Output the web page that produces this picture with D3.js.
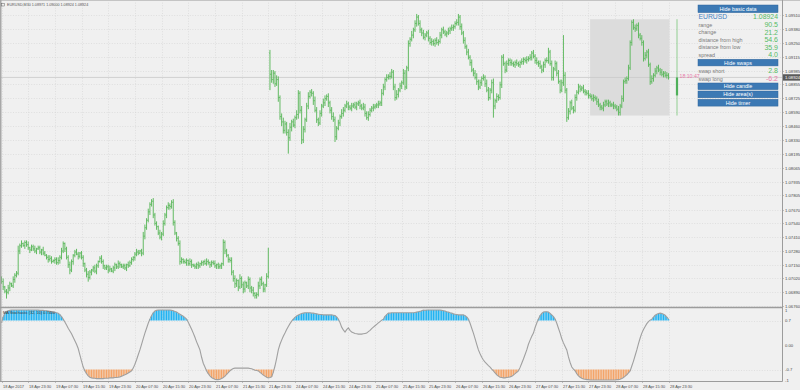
<!DOCTYPE html>
<html>
<head>
<meta charset="utf-8">
<script src="https://d3js.org/d3.v7.min.js"></script>
<style>
  body { margin: 0; background: #f0f0f0; }
  svg { display: block; font-family: "Liberation Sans", Arial, sans-serif; }
</style>
</head>
<body>
<svg id="chart" width="800" height="390"></svg>
<script>
// ---- data ----
var symbol = "EURUSD,M30";
var headerPrices = ["1.08971", "1.09000", "1.08924", "1.08924"];
var indicatorName = "MA Stochastic (32, 10) 0.7400";

var dateLabels = ["18 Apr 2017", "18 Apr 23:30", "19 Apr 07:30", "19 Apr 15:30", "19 Apr 23:30",
  "20 Apr 07:30", "20 Apr 15:30", "20 Apr 23:30", "21 Apr 07:30", "21 Apr 15:30", "21 Apr 23:30",
  "24 Apr 07:30", "24 Apr 15:30", "24 Apr 23:30", "25 Apr 07:30", "25 Apr 15:30", "25 Apr 23:30",
  "26 Apr 07:30", "26 Apr 15:30", "26 Apr 23:30", "27 Apr 07:30", "27 Apr 15:30", "27 Apr 23:30",
  "28 Apr 07:30", "28 Apr 15:30", "28 Apr 23:30"];
var barsPerLabel = 16;

var priceTicks = [1.09510, 1.09380, 1.09250, 1.09115, 1.08985, 1.08855, 1.08725, 1.08590,
  1.08460, 1.08330, 1.08195, 1.08065, 1.07935, 1.07805, 1.07670, 1.07540, 1.07410, 1.07280,
  1.07150, 1.07020, 1.06890, 1.06760];
var stochTicks = [1, 0.7, 0, -0.7, -1];
var stochTickLabels = ["1", "0.7", "0.00", "-0.7", "-1"];

// closes in pips above 1.07000, one per M30 bar
var closes = [-1,-6,-10,-11,-7,-3,-5,1,5,7,28,33,35,33,36,34,31,29,32,30,28,30,31,27,29,
  26,24,22,20,21,18,19,20,17,19,22,28,35,30,22,15,10,18,24,27,25,23,26,22,16,10,6,3,
  8,10,12,9,14,18,21,18,14,12,13,10,11,9,12,15,13,16,15,13,14,12,15,14,17,20,22,
  25,27,26,28,26,42,50,57,65,72,75,62,54,51,45,41,44,54,62,69,71,70,74,55,45,40,35,18,
  20,18,17,19,16,18,15,14,13,15,14,16,17,18,16,18,17,15,17,16,14,15,13,14,16,36,28,24,20,19,
  8,2,-3,0,-6,2,-4,-8,-2,-5,1,-7,-9,-12,-14,-13,-5,1,-3,-8,-4,4,8,
  195,190,196,186,190,173,155,150,142,148,140,135,145,150,147,154,157,177,161,133,143,152,
  165,174,178,177,170,161,152,149,158,165,168,172,174,168,161,155,152,136,144,149,155,158,161,
  165,167,164,163,165,166,164,167,168,165,163,164,158,154,157,161,163,164,165,166,167,168,177,
  183,190,192,193,193,197,183,173,176,180,184,187,196,183,201,224,228,232,237,243,249,243,
  237,234,230,232,234,229,225,226,224,227,225,226,232,237,235,233,234,236,238,239,240,243,244,249,
  240,234,227,221,216,211,206,199,196,192,188,183,187,191,192,186,180,173,180,187,165,170,174,173,185,
  211,205,199,205,208,206,205,204,206,205,204,206,207,209,208,209,210,211,215,212,208,206,205,
  202,199,204,208,208,216,205,192,200,205,196,188,180,187,194,180,154,160,168,163,161,
  173,178,183,181,182,179,178,177,175,174,172,173,172,169,166,164,163,166,169,167,168,166,
  166,165,164,162,159,165,172,188,189,191,201,225,244,239,238,241,232,229,225,
  210,213,216,204,188,191,194,198,201,199,197,195,196,194,194,192];

var wickUp = [2,3,1,2,3,2,1,3,2,2,5,2,3,1,2,2,3,1,2,2,
  3,1,2,2,1,3,2,1,2,3,2,1,2,2,3,2,3,2,1,2,
  2,3,2,1,2,3,2,1,2,2,1,2,3,2,1,2,3,2,1,2,
  3,2,1,2,2,3,1,2,2,1,3,2,1,2,2,1,3,2,2,1,
  2,3,2,1,2,4,3,2,3,2,2,3,2,2,1,3,2,3,2,2,
  3,2,2,3,2,1,2,3,2,1,2,2,1,3,2,1,2,2,3,1,
  2,1,2,3,2,1,2,2,3,1,2,2,1,3,2,2,1,2,3,2,
  3,2,1,4,2,3,2,1,3,2,2,3,1,2,4,2,3,2,1,3,
  23,3,4,3,2,4,3,2,3,4,3,2,3,4,2,3,2,4,3,2,
  4,3,2,3,4,2,3,2,4,3,2,3,2,4,3,2,3,2,3,4,
  3,2,3,2,4,3,2,3,2,2,3,2,3,2,2,3,2,4,3,2,
  3,2,2,3,2,2,3,2,4,3,2,3,2,4,3,2,3,4,2,3,
  2,4,3,2,3,2,4,2,3,3,2,3,2,3,2,2,3,2,3,2,
  2,3,2,3,2,3,2,2,3,2,3,2,2,3,3,2,3,2,3,2,
  3,2,3,2,3,4,2,3,2,3,2,4,3,2,3,4,2,3,2,3,
  2,3,2,3,2,2,3,2,2,3,2,2,3,2,2,3,2,3,2,3,
  2,3,2,3,2,3,2,3,4,2,3,2,3,2,3,2,3,38,3,2,
  3,2,3,2,3,2,3,2,2,3,2,2,3,2,2,3,2,2,3,2,
  2,3,2,2,3,2,2,3,2,2,3,2,3,2,3,2,3,2,2,3,
  3,2,3,2,3,2,3,2,3,2,3,2,3,2,3,2,3,2,2,3,
  2];

var wickDn = [2,3,2,6,2,3,1,2,3,2,2,3,2,1,3,2,2,3,1,2,
  2,3,1,2,3,2,1,2,3,2,2,1,3,2,2,3,2,2,3,2,
  3,4,2,3,2,1,3,2,2,3,2,3,4,2,3,2,2,3,2,1,
  2,3,2,2,3,2,1,2,3,2,2,3,1,2,2,3,2,1,2,2,
  3,2,2,1,3,2,3,2,2,3,2,3,2,3,2,2,3,2,2,3,
  2,3,2,3,2,3,2,3,2,2,1,3,2,2,3,1,2,2,3,2,
  2,3,1,2,2,3,2,1,2,3,2,2,3,2,3,2,3,2,3,3,
  4,3,4,2,3,4,3,2,3,4,3,3,3,3,2,3,2,3,3,2,
  2,15,3,4,3,2,4,3,4,3,3,3,15,3,4,2,3,2,4,3,
  4,3,3,2,3,2,3,4,2,3,3,2,3,2,3,2,4,3,3,2,
  5,3,2,3,2,3,2,2,3,2,3,2,2,3,2,3,2,2,3,2,
  3,2,2,3,2,2,3,2,3,2,3,2,2,3,2,3,3,2,3,2,
  3,2,3,2,3,3,2,3,2,3,2,3,3,2,3,2,3,2,3,2,
  3,2,3,2,3,2,2,3,2,3,2,3,2,2,3,3,2,3,2,3,
  2,3,2,3,2,3,3,2,3,2,3,2,3,2,3,11,3,2,3,2,
  3,2,3,2,2,3,2,2,3,2,2,3,2,3,2,3,2,2,3,2,
  3,2,3,2,3,2,3,2,3,2,3,3,2,3,2,3,2,3,3,4,
  2,3,2,3,2,3,2,3,2,2,3,2,3,2,2,3,2,3,2,3,
  2,3,2,2,3,2,2,3,2,2,3,3,2,3,2,3,2,2,3,2,
  3,2,3,2,3,3,2,3,2,3,2,3,2,3,2,3,2,3,2,3,
  2];

var firstOpen = 2;          // pips, open of the first bar
var mondayIndex = 161;      // first bar after the weekend gap
var mondayOpen = 215;       // pips, gap opening price
var dayStartIndex = 353;    // first bar of 28 Apr

// MA stochastic, in hundredths
var stoch = [63,80,91,96,
  98,99,100,100,100,100,100,100,100,100,100,100,100,100,100,100,100,100,100,99,99,99,98,98,97,
  96,95,94,93,92,91,87,81,74,66,57,48,40,32,22,12,2,-10,-28,-46,-63,-74,-82,-88,
  -92,-94,-95,-95,-96,-96,-96,-96,-96,-95,-95,-95,-94,-94,-94,-93,-93,-92,-91,
  -89,-87,-85,-83,-80,-77,-74,-66,-55,-42,-28,-14,2,18,34,48,62,74,84,92,97,
  99,100,100,100,100,100,100,100,100,99,98,96,94,91,88,85,82,78,74,65,55,45,34,22,9,-2,-14,
  -35,-52,-63,-74,-82,-88,-93,-96,-98,-99,-99,-98,-96,-93,-89,-84,-79,-74,
  -70,-67,-66,-66,-66,-66,-66,-66,-66,-66,-66,-67,-68,-70,-72,-73,-74,-78,-82,-86,-89,-92,-94,
  -93,-91,-78,-60,-38,-14,2,14,25,34,44,53,61,68,74,79,83,86,88,90,91,92,92,92,92,91,91,
  90,89,88,87,87,86,86,86,86,86,86,85,84,80,74,64,51,43,37,44,49,42,37,35,33,32,31,31,
  31,32,33,34,38,42,47,51,55,59,63,67,71,74,82,87,91,
  91,92,92,92,92,92,92,92,92,92,92,92,92,92,92,93,94,95,96,98,100,
  99,100,100,100,100,100,100,100,100,100,99,98,97,95,94,92,91,89,88,87,86,86,86,86,84,80,74,
  62,48,34,18,2,-14,-25,-35,-43,-49,-54,-59,-63,-69,-74,-80,-85,-89,-92,-93,-94,
  -94,-93,-92,-91,-89,-86,-82,-78,-74,-64,-52,-40,-27,-14,2,14,25,34,50,63,74,84,90,94,
  95,95,94,90,86,81,74,62,48,34,18,6,-4,-14,-34,-50,-63,-69,-74,-82,-88,-92,-95,-97,
  -98,-99,-99,-100,-100,-100,-100,-100,-100,-100,-100,-100,-100,-100,-100,-100,-100,-100,-100,
  -99,-99,-98,-96,-93,-89,-85,-80,-74,-60,-46,-30,-14,4,20,34,44,53,61,67,71,74,
  80,85,88,90,91,90,88,85,80,74];

var lastPrice = "1.08924";
var basicRows = [["range", "90.5"], ["change", "21.2"], ["distance from high", "54.6"],
  ["distance from low", "35.9"], ["spread", "4.0"]];
var swapRows = [["swap short", "2.8", "#55bb66"], ["swap long", "-6.2", "#e87aa8"]];
var timerText = "18:10:47";

if (closes.length !== wickUp.length || closes.length !== wickDn.length || closes.length !== stoch.length)
  throw new Error("length mismatch " + closes.length + " " + wickUp.length + " " + wickDn.length + " " + stoch.length);

// ---- build bars ----
var base = 1.07, pip = 0.0001;
var bars = closes.map(function (c, i) {
  var o = i === 0 ? firstOpen : (i === mondayIndex ? mondayOpen : closes[i - 1]);
  return {
    i: i,
    o: base + o * pip,
    c: base + c * pip,
    h: base + (Math.max(o, c) + wickUp[i]) * pip,
    l: base + (Math.min(o, c) - wickDn[i]) * pip
  };
});
var last = bars[bars.length - 1];

var svg = d3.select("#chart");
var plotRight = 782.5, axisY = 381.5, sepY = 307.5;

var x = d3.scaleLinear().domain([0, bars.length - 1]).range([1.5, 668.5]);
var y = d3.scaleLinear().domain([1.06760, 1.09510]).range([306, 15]);
var yi = d3.scaleLinear().domain([-1, 1]).range([380, 310]);

svg.append("rect").attr("width", 800).attr("height", 390).attr("fill", "#f0f0f0");

// grid
var grid = svg.append("g").attr("stroke", "#d4d4d4").attr("stroke-width", 0.6)
  .attr("stroke-dasharray", "1,1.6");
priceTicks.forEach(function (p) {
  grid.append("line").attr("x1", 0).attr("x2", plotRight)
    .attr("y1", Math.round(y(p)) + 0.5).attr("y2", Math.round(y(p)) + 0.5);
});
dateLabels.forEach(function (d, k) {
  var gx = Math.round(x(k * barsPerLabel)) + 0.5;
  grid.append("line").attr("x1", gx).attr("x2", gx).attr("y1", 0).attr("y2", 306);
  grid.append("line").attr("x1", gx).attr("x2", gx).attr("y1", 309).attr("y2", axisY);
});
[0.7, -0.7].forEach(function (v) {
  grid.append("line").attr("x1", 0).attr("x2", plotRight)
    .attr("y1", Math.round(yi(v)) + 0.5).attr("y2", Math.round(yi(v)) + 0.5);
});

// today's range area
var dayBars = bars.slice(dayStartIndex);
var dayHigh = d3.max(dayBars, function (b) { return b.h; });
var dayLow = d3.min(dayBars, function (b) { return b.l; });
svg.append("rect")
  .attr("x", x(dayStartIndex)).attr("y", y(dayHigh))
  .attr("width", x(bars.length - 1) - x(dayStartIndex) + 1)
  .attr("height", y(dayLow) - y(dayHigh))
  .attr("fill", "#dcdcdc");

// current price line
svg.append("line").attr("x1", 0).attr("x2", plotRight)
  .attr("y1", y(last.c)).attr("y2", y(last.c))
  .attr("stroke", "#c8c8c8").attr("stroke-width", 0.8);

// OHLC bars
var barPath = "";
bars.forEach(function (b) {
  var bx = x(b.i);
  barPath += "M" + bx + "," + y(b.h) + "V" + y(b.l) +
    "M" + (bx - 0.85) + "," + y(b.o) + "H" + bx +
    "M" + bx + "," + y(b.c) + "H" + (bx + 0.85);
});
svg.append("path").attr("d", barPath).attr("fill", "none")
  .attr("stroke", "#62ba62").attr("stroke-width", 1);

// daily candle
var cx = x(bars.length - 1) + 8.5;
var dayOpen = dayBars[0].o;
svg.append("line").attr("x1", cx).attr("x2", cx).attr("y1", y(dayHigh)).attr("y2", y(dayLow))
  .attr("stroke", "#86c986").attr("stroke-width", 0.9);
svg.append("rect").attr("x", cx - 1.1).attr("width", 2.2)
  .attr("y", y(Math.max(dayOpen, last.c))).attr("height", Math.abs(y(dayOpen) - y(last.c)))
  .attr("fill", "#4fb05a");

// timer
svg.append("text").attr("x", cx + 2.5).attr("y", y(last.c) + 0.5)
  .attr("font-size", 5.2).attr("fill", "#e87aa8").text(timerText);

// stochastic histogram above 0.7 / below -0.7
var hist = svg.append("g").attr("stroke-width", 1.3);
stoch.forEach(function (s, i) {
  var v = s / 100;
  if (v > 0.7) {
    hist.append("line").attr("x1", x(i)).attr("x2", x(i)).attr("y1", yi(0.7)).attr("y2", yi(v))
      .attr("stroke", "#21b3f2");
  } else if (v < -0.7) {
    hist.append("line").attr("x1", x(i)).attr("x2", x(i)).attr("y1", yi(-0.7)).attr("y2", yi(v))
      .attr("stroke", "#f4a468");
  }
});
svg.append("path")
  .datum(stoch)
  .attr("d", d3.line().x(function (d, i) { return x(i); }).y(function (d) { return yi(d / 100); }))
  .attr("fill", "none").attr("stroke", "#a0a0a0").attr("stroke-width", 1.1);

// frame
var frame = svg.append("g").attr("stroke", "#a8a8a8").attr("fill", "none");
frame.append("line").attr("x1", 0).attr("x2", 800).attr("y1", 0.5).attr("y2", 0.5).attr("stroke", "#c4c4c4");
frame.append("line").attr("x1", 0.75).attr("x2", 0.75).attr("y1", 0).attr("y2", axisY).attr("stroke-width", 1.5);
frame.append("line").attr("x1", 0).attr("x2", plotRight).attr("y1", sepY).attr("y2", sepY).attr("stroke-width", 1.6).attr("stroke", "#9c9c9c");
frame.append("line").attr("x1", plotRight).attr("x2", plotRight).attr("y1", 0).attr("y2", axisY).attr("stroke", "#9c9c9c");
frame.append("line").attr("x1", 0).attr("x2", plotRight).attr("y1", axisY).attr("y2", axisY).attr("stroke", "#9c9c9c");

// price axis
var fmt = d3.format(".5f");
var pAxis = svg.append("g").attr("font-size", 4.2).attr("fill", "#4a4a4a");
priceTicks.forEach(function (p) {
  var ty = Math.round(y(p)) + 0.5;
  svg.append("line").attr("x1", plotRight).attr("x2", plotRight + 1.5).attr("y1", ty).attr("y2", ty)
    .attr("stroke", "#9c9c9c").attr("stroke-width", 0.6);
  pAxis.append("text").attr("x", 785).attr("y", ty + 1.5).text(fmt(p));
});
svg.append("rect").attr("x", plotRight + 0.5).attr("y", y(last.c) - 3.2).attr("width", 17).attr("height", 6.4)
  .attr("fill", "#5a5a5a");
svg.append("text").attr("x", 785).attr("y", y(last.c) + 1.5).attr("font-size", 4.2)
  .attr("fill", "#ffffff").text(lastPrice);

// stochastic axis
stochTicks.forEach(function (v, k) {
  pAxis.append("text").attr("x", 785).attr("y", yi(v) + 1.5).text(stochTickLabels[k]);
});

// time axis
var tAxis = svg.append("g").attr("font-size", 3.9).attr("fill", "#4a4a4a");
dateLabels.forEach(function (d, k) {
  var tx = Math.round(x(k * barsPerLabel)) + 0.5;
  svg.append("line").attr("x1", tx).attr("x2", tx).attr("y1", axisY).attr("y2", axisY + 1.5)
    .attr("stroke", "#9c9c9c").attr("stroke-width", 0.6);
  tAxis.append("text").attr("x", tx + 0.5).attr("y", 387.5).text(d);
});

// header and indicator caption
svg.append("rect").attr("x", 1.5).attr("y", 3.5).attr("width", 3).attr("height", 2.5)
  .attr("fill", "none").attr("stroke", "#666").attr("stroke-width", 0.5);
svg.append("text").attr("x", 7).attr("y", 6.3).attr("font-size", 3.7).attr("fill", "#555")
  .text(symbol + " " + headerPrices.join(" "));
svg.append("text").attr("x", 3).attr("y", 314).attr("font-size", 3.9).attr("fill", "#3a3a3a")
  .text(indicatorName);

// info panel
var panel = svg.append("g");
var pL = 698, pR = 778;
function button(label, y0, h) {
  panel.append("rect").attr("x", pL).attr("y", y0).attr("width", pR - pL).attr("height", h)
    .attr("fill", "#3c79b4").attr("stroke", "#2f659a").attr("stroke-width", 0.5);
  panel.append("text").attr("x", (pL + pR) / 2).attr("y", y0 + h / 2 + 1.9)
    .attr("text-anchor", "middle").attr("font-size", 5.4).attr("fill", "#ffffff").text(label);
}
function row(label, value, yb, color) {
  panel.append("text").attr("x", pL + 0.5).attr("y", yb).attr("font-size", 5.4)
    .attr("fill", "#7a7a7a").text(label);
  panel.append("text").attr("x", pR).attr("y", yb + 0.4).attr("text-anchor", "end")
    .attr("font-size", 7).attr("fill", color).text(value);
}
button("Hide basic data", 5, 7.6);
panel.append("text").attr("x", pL + 0.5).attr("y", 19.2).attr("font-size", 6.8)
  .attr("fill", "#4683c2").text(symbol.split(",")[0]);
panel.append("text").attr("x", pR).attr("y", 19.2).attr("text-anchor", "end").attr("font-size", 6.9)
  .attr("fill", "#55bb66").text(lastPrice);
basicRows.forEach(function (r, k) {
  row(r[0], r[1], 26.8 + k * 7.55, "#55bb66");
});
button("Hide swaps", 59.3, 6.6);
swapRows.forEach(function (r, k) {
  row(r[0], r[1], 72.6 + k * 8, r[2]);
});
button("Hide candle", 83, 6.6);
button("Hide area(s)", 91, 6.8);
button("Hide timer", 99.3, 6.8);
</script>
</body>
</html>
